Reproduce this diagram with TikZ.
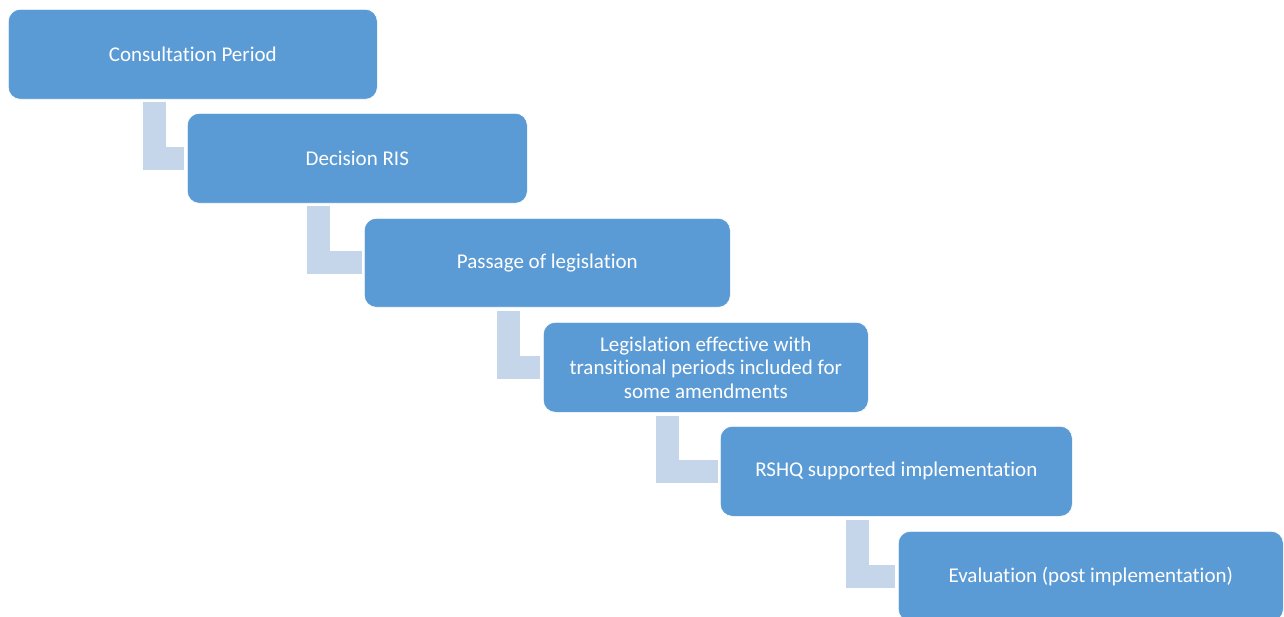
\documentclass[tikz,border=0pt]{standalone}
\usepackage{fontspec}
\setmainfont{Carlito}[RawFeature={-liga}]
\definecolor{boxblue}{HTML}{5B9BD5}
\definecolor{connblue}{HTML}{C5D5EA}
\begin{document}
\begin{tikzpicture}[x=1pt,y=-1pt,
  stepbox/.style={rectangle, rounded corners=12pt, fill=boxblue, draw=white, line width=0.6pt,
    anchor=north west, inner sep=0pt, text=white, align=center,
    font=\fontsize{21}{23.5}\selectfont},
  conn/.style={draw=connblue, line width=23pt, line cap=butt, line join=miter}]
\useasboundingbox (0,0) rectangle (1284,617);
\begin{scope}
\clip (0,0) rectangle (1284,617);
\node[stepbox, minimum width=369pt, minimum height=90pt] (b1) at (8,9) {Consultation Period};
\node[stepbox, minimum width=340pt, minimum height=90pt] (b2) at (187,113) {Decision RIS};
\node[stepbox, minimum width=366pt, minimum height=89pt] (b3) at (364,218) {Passage of legislation};
\node[stepbox, minimum width=325pt, minimum height=90pt] (b4) at (543,322) {Legislation effective with\\transitional periods included for\\some amendments};
\node[stepbox, minimum width=352pt, minimum height=90pt] (b5) at (720,426) {RSHQ supported implementation};
\node[stepbox, minimum width=385pt, minimum height=90pt] (b6) at (898,531) {Evaluation (post implementation)};
\draw[conn] ([shift={(146.5pt,-2pt)}]b1.south west) |- ([xshift=-3pt]b2.west);
\draw[conn] ([shift={(131.5pt,-2pt)}]b2.south west) |- ([xshift=-2pt]b3.west);
\draw[conn] ([shift={(144.5pt,-3pt)}]b3.south west) |- ([xshift=-3pt]b4.west);
\draw[conn] ([shift={(124.5pt,-3pt)}]b4.south west) |- ([xshift=-2pt]b5.west);
\draw[conn] ([shift={(137.5pt,-3pt)}]b5.south west) |- ([xshift=-3pt]b6.west);
\end{scope}
\end{tikzpicture}
\end{document}
